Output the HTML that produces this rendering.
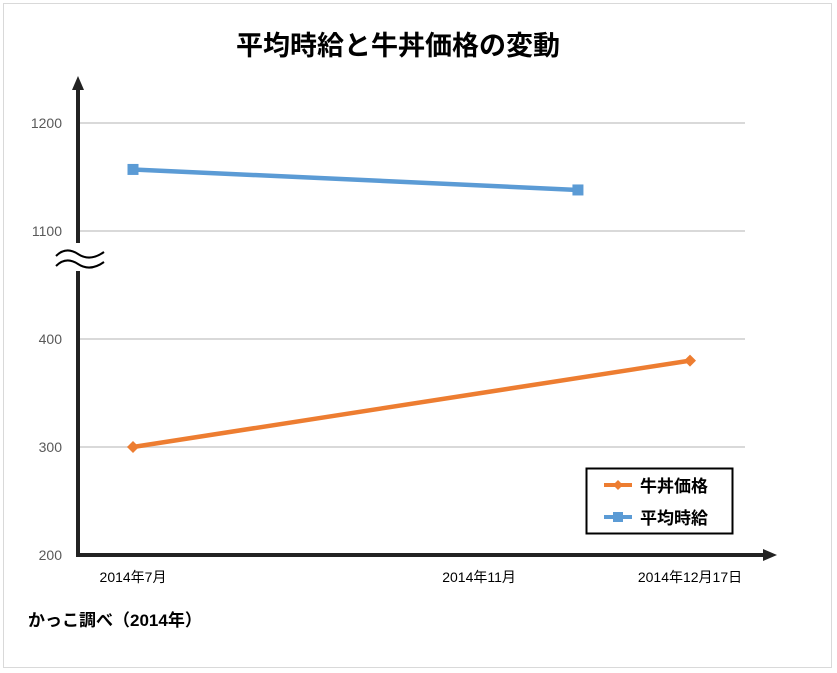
<!DOCTYPE html>
<html><head><meta charset="utf-8"><style>
html,body{margin:0;padding:0;background:#fff}
svg{display:block}
text{font-family:"Liberation Sans","Noto Sans CJK JP",sans-serif}
</style></head><body>
<svg width="837" height="673" viewBox="0 0 837 673" id="chart">
<rect x="3.5" y="3.5" width="828" height="664" fill="#fff" stroke="#d9d9d9"/>
<text x="398" y="55" text-anchor="middle" font-size="27" font-weight="bold" fill="#000">平均時給と牛丼価格の変動</text>
<g id="grid"></g>
<g id="axes"></g>
<g id="series"></g>
<text x="28" y="626" font-size="17" font-weight="bold" fill="#000">かっこ調べ（2014年）</text>
<g>
<rect x="586.5" y="468.5" width="146" height="65" fill="#fff" stroke="#000" stroke-width="2"/>
<g>
<line x1="604" y1="485" x2="632" y2="485" stroke="#ed7d31" stroke-width="4"/>
<path d="M618 480 L623 485 L618 490 L613 485 Z" fill="#ed7d31"/>
<text x="640" y="492" font-size="17" font-weight="bold">牛丼価格</text>
</g>
<g>
<line x1="604" y1="517" x2="632" y2="517" stroke="#5b9bd5" stroke-width="4"/>
<rect x="613" y="512" width="10" height="10" fill="#5b9bd5"/>
<text x="640" y="524" font-size="17" font-weight="bold">平均時給</text>
</g>
</g>
</svg>
<script>
// category day offsets from 2014-07-01 (date axis)
const xLabels = ["2014年7月", "2014年11月", "2014年12月17日"];
const xLabelDays = [0, 105, 169];
const wageDays = [0, 135];
const wageValues = [1157, 1138];
const gyudonDays = [0, 169];
const gyudonValues = [300, 380];
const lowerTicks = [200, 300, 400];
const upperTicks = [1100, 1200];

const NS = "http://www.w3.org/2000/svg";
const x0 = 133, x1 = 690;
function xScale(d){ return x0 + (d - 0) / 169 * (x1 - x0); }
function yScale(v){
  if (v >= 1000) return 231 - (v - 1100) * 1.08;
  return 555 - (v - 200) * 1.08;
}
function mk(tag, attrs, parent){
  const e = document.createElementNS(NS, tag);
  for (const k in attrs) e.setAttribute(k, attrs[k]);
  parent.appendChild(e);
  return e;
}
const grid = document.getElementById("grid");
const axes = document.getElementById("axes");
const series = document.getElementById("series");

lowerTicks.concat(upperTicks).forEach(v => {
  const y = yScale(v);
  if (v !== 200) {
    const l = mk("line", {x1: 78, x2: 745, y1: y, y2: y, stroke: "#d9d9d9", "stroke-width": 2}, grid);
    
    
  }
  const t = mk("text", {x: 62, y: y + 5, "text-anchor": "end", "font-size": 14, fill: "#595959"}, grid);
  t.textContent = v;
  
  
});

// axes
let a = mk("line", {x1: 78, y1: 555, x2: 78, y2: 271, stroke: "#222", "stroke-width": 4}, axes);


a = mk("line", {x1: 78, y1: 243, x2: 78, y2: 88, stroke: "#222", "stroke-width": 4}, axes);


a = mk("path", {d: "M78 76 L72 90 L84 90 Z", fill: "#222"}, axes);


a = mk("line", {x1: 76, y1: 555, x2: 765, y2: 555, stroke: "#222", "stroke-width": 4}, axes);


a = mk("path", {d: "M777 555 L763 549 L763 561 Z", fill: "#222"}, axes);


a = mk("path", {d: "M56 256 Q66 246 78 254 Q90 262 104 252 M56 266 Q66 256 78 264 Q90 272 104 262", fill: "none", stroke: "#000", "stroke-width": 2}, axes);



xLabels.forEach((lab, i) => {
  const t = mk("text", {x: xScale(xLabelDays[i]), y: 582, "text-anchor": "middle", "font-size": 14, fill: "#000"}, axes);
  t.textContent = lab;
  
  
});

function drawSeries(days, vals, color, marker, name){
  const pts = days.map((d, i) => xScale(d) + "," + yScale(vals[i])).join(" ");
  const pl = mk("polyline", {points: pts, fill: "none", stroke: color, "stroke-width": 4.5}, series);
  
  
  days.forEach((d, i) => {
    const x = xScale(d), y = yScale(vals[i]);
    let m;
    if (marker === "square") m = mk("rect", {x: x - 5.5, y: y - 5.5, width: 11, height: 11, fill: color}, series);
    else m = mk("path", {d: `M${x} ${y-6} L${x+6} ${y} L${x} ${y+6} L${x-6} ${y} Z`, fill: color}, series);
    
    
  });
}
drawSeries(wageDays, wageValues, "#5b9bd5", "square", "wage");
drawSeries(gyudonDays, gyudonValues, "#ed7d31", "diamond", "gyudon");
</script>
</body></html>
